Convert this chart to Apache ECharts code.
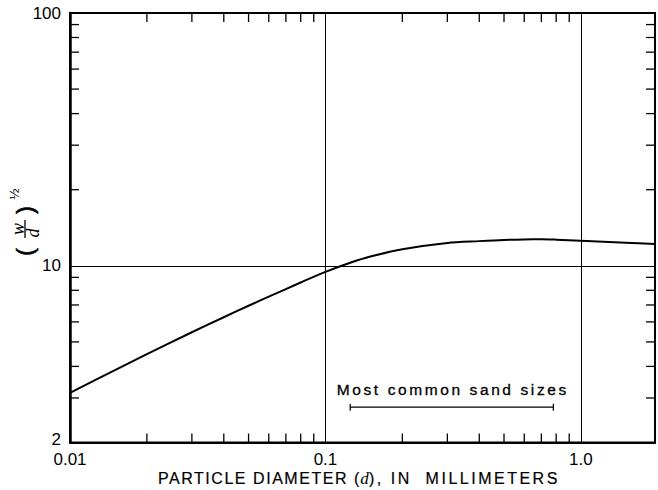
<!DOCTYPE html>
<html><head><meta charset="utf-8">
<script src="https://cdn.jsdelivr.net/npm/echarts@6/dist/echarts.min.js"></script>
<style>html,body{margin:0;padding:0;background:#fff}#main{width:658px;height:490px}#main text{white-space:pre}</style>
</head><body><div id="main"></div>
<script>
// ---- data ----
const diameters = [0.01, 0.015, 0.02, 0.03, 0.04, 0.05, 0.06, 0.08, 0.1, 0.125, 0.15, 0.2, 0.3, 0.4, 0.5, 0.6, 0.7, 0.8, 1.0, 1.5, 1.95];
const ratioValues = [3.14, 3.87, 4.47, 5.46, 6.26, 6.95, 7.55, 8.59, 9.46, 10.28, 10.88, 11.63, 12.31, 12.52, 12.66, 12.72, 12.74, 12.69, 12.56, 12.33, 12.19];
const xMin = 0.01, xMax = 1.95, yMin = 2, yMax = 100;
const xLabelValues = [0.01, 0.1, 1];
const xLabelTexts = ['0.01', '0.1', '1.0'];
const yLabelValues = [2, 10, 100];
const yLabelTexts = ['2', '10', '100'];
const xMinorTicks = [0.02, 0.03, 0.04, 0.05, 0.06, 0.07, 0.08, 0.09, 0.2, 0.3, 0.4, 0.5, 0.6, 0.7, 0.8, 0.9];
const yMinorTicks = [3, 4, 5, 6, 7, 8, 9, 20, 30, 40, 50, 60, 70, 80, 90];
const sandRange = [0.125, 0.78];
const sandLevel = 2.76;
const sandLabel = 'Most common sand sizes';
const xTitleParts = ['PARTICLE DIAMETER (', 'd', '), IN  MILLIMETERS'];

function labelFor(v, vals, texts) {
  for (let i = 0; i < vals.length; i++) {
    if (Math.abs(Math.log10(v) - Math.log10(vals[i])) < 1e-6) return texts[i];
  }
  return '';
}

const tickData = [];
xMinorTicks.forEach(v => { tickData.push([v, yMin, 0]); tickData.push([v, yMax, 1]); });
yMinorTicks.forEach(v => { tickData.push([xMin, v, 2]); tickData.push([xMax, v, 3]); });

const chart = echarts.init(document.getElementById('main'), null, { renderer: 'svg' });
const FONT = 'Liberation Sans';
chart.setOption({
  animation: false,
  backgroundColor: '#fff',
  grid: { left: 70, right: 3, top: 13, bottom: 47.5, show: true, borderColor: '#000', borderWidth: 2, backgroundColor: 'transparent', containLabel: false, outerBoundsMode: 'none' },
  xAxis: {
    type: 'log', logBase: 10, min: xMin, max: xMax,
    axisLine: { show: true, lineStyle: { color: '#000', width: 2 } },
    axisTick: { show: false },
    minorTick: { show: false },
    splitLine: { show: true, lineStyle: { color: '#000', width: 1 } },
    axisLabel: { color: '#000', fontFamily: FONT, fontSize: 17, margin: 10, lineHeight: 14,
      formatter: v => labelFor(v, xLabelValues, xLabelTexts) }
  },
  yAxis: {
    type: 'log', logBase: 10, min: yMin, max: yMax,
    axisLine: { show: true, lineStyle: { color: '#000', width: 2.5 } },
    axisTick: { show: false },
    minorTick: { show: false },
    splitLine: { show: true, lineStyle: { color: '#000', width: 1 } },
    axisLabel: { color: '#000', fontFamily: FONT, fontSize: 17, margin: 9, lineHeight: 12,
      formatter: v => {
        const t = labelFor(v, yLabelValues, yLabelTexts);
        return Math.abs(v - yMin) < 1e-6 ? '{lo|' + t + '}' : t;
      },
      rich: { lo: { color: '#000', fontFamily: FONT, fontSize: 17, lineHeight: 12, padding: [0, 0, 6, 0] } }
    }
  },
  series: [
    {
      type: 'line', data: diameters.map((d, i) => [d, ratioValues[i]]),
      showSymbol: false, smooth: 0.3, silent: true,
      lineStyle: { color: '#000', width: 2 }
    },
    {
      type: 'custom', data: tickData, clip: false, silent: true,
      renderItem: (params, api) => {
        const p = api.coord([api.value(0), api.value(1)]);
        const k = api.value(2);
        const L = 9;
        let x2 = p[0], y2 = p[1];
        if (k === 0) y2 -= L; else if (k === 1) y2 += L; else if (k === 2) x2 += L; else x2 -= L;
        return { type: 'line', shape: { x1: p[0], y1: p[1], x2: x2, y2: y2 }, style: { stroke: '#000', lineWidth: 1.3 } };
      }
    },
    {
      type: 'custom', data: [[sandRange[0], sandLevel, sandRange[1]]], clip: false, silent: true,
      renderItem: (params, api) => {
        const p1 = api.coord([api.value(0), api.value(1)]);
        const p2 = api.coord([api.value(2), api.value(1)]);
        const cx = (p1[0] + p2[0]) / 2;
        return {
          type: 'group',
          children: [
            { type: 'line', shape: { x1: p1[0], y1: p1[1], x2: p2[0], y2: p2[1] }, style: { stroke: '#000', lineWidth: 1.2 } },
            { type: 'line', shape: { x1: p1[0], y1: p1[1] - 3.5, x2: p1[0], y2: p1[1] + 3.5 }, style: { stroke: '#000', lineWidth: 1.2 } },
            { type: 'line', shape: { x1: p2[0], y1: p2[1] - 3.5, x2: p2[0], y2: p2[1] + 3.5 }, style: { stroke: '#000', lineWidth: 1.2 } },
            { type: 'text', x: cx + 1, y: p1[1] - 18, style: { text: sandLabel, align: 'center', verticalAlign: 'middle', fontFamily: FONT, fontSize: 15.5, fill: '#000', stroke: '#000', lineWidth: 0.3 } }
          ]
        };
      }
    }
  ],
  graphic: [
    { type: 'text', x: 361, y: 478, style: { text: xTitleParts[0], align: 'right', verticalAlign: 'middle', fontFamily: FONT, fontSize: 16, fill: '#000', stroke: '#000', lineWidth: 0.2 } },
    { type: 'text', x: 364.5, y: 478, style: { text: xTitleParts[1], align: 'center', verticalAlign: 'middle', fontFamily: 'Liberation Serif', fontStyle: 'italic', fontSize: 17, fill: '#000' } },
    { type: 'text', x: 369, y: 478, style: { text: xTitleParts[2], align: 'left', verticalAlign: 'middle', fontFamily: FONT, fontSize: 16, fill: '#000', stroke: '#000', lineWidth: 0.2 } },
    {
      type: 'group', x: 24, y: 231, rotation: Math.PI / 2,
      children: [
        { type: 'text', x: -21, y: 0, style: { text: '(', align: 'center', verticalAlign: 'middle', fontFamily: FONT, fontSize: 24, fill: '#000', stroke: '#000', lineWidth: 0.6 } },
        { type: 'text', x: 21, y: 0, style: { text: ')', align: 'center', verticalAlign: 'middle', fontFamily: FONT, fontSize: 24, fill: '#000', stroke: '#000', lineWidth: 0.6 } },
        { type: 'text', x: 2, y: -6, style: { text: 'w', align: 'center', verticalAlign: 'middle', fontFamily: 'Liberation Serif', fontStyle: 'italic', fontSize: 18, fill: '#000' } },
        { type: 'line', shape: { x1: -7, y1: 1, x2: 11, y2: 1 }, style: { stroke: '#000', lineWidth: 1.3 } },
        { type: 'text', x: -2, y: 9, style: { text: 'd', align: 'center', verticalAlign: 'middle', fontFamily: 'Liberation Serif', fontStyle: 'italic', fontSize: 18, fill: '#000' } },
        { type: 'text', x: 37, y: -10, style: { text: '½', align: 'center', verticalAlign: 'middle', fontFamily: FONT, fontSize: 13, fill: '#000' } }
      ]
    }
  ]
});

function applySpacing() {
  document.querySelectorAll('#main text').forEach(t => {
    const s = t.textContent;
    if (s === sandLabel) t.setAttribute('letter-spacing', '2.6');
    else if (s === xTitleParts[0]) t.setAttribute('letter-spacing', '1.55');
    else if (s === xTitleParts[2]) t.setAttribute('letter-spacing', '2.5');
  });
}
chart.on('finished', applySpacing);
setTimeout(applySpacing, 0);
setTimeout(applySpacing, 100);
</script>
</body></html>
